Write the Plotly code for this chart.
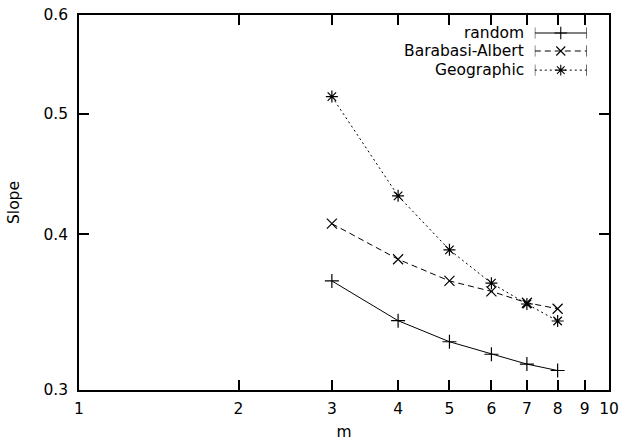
import plotly.graph_objects as go

# Slope versus m for three network models
m_values = [3, 4, 5, 6, 7, 8]
slope_random = [0.367, 0.341, 0.328, 0.3205, 0.3147, 0.311]
slope_ba = [0.408, 0.382, 0.367, 0.360, 0.3525, 0.3486]
slope_geo = [0.516, 0.4295, 0.3887, 0.3655, 0.3517, 0.3408]

series_names = ["random", "Barabasi-Albert", "Geographic"]
series_values = [slope_random, slope_ba, slope_geo]
dashes = ["solid", "6px,4px", "2px,3px"]
symbols = ["cross-thin", "x-thin", "asterisk-open"]

x_ticks = [1, 2, 3, 4, 5, 6, 7, 8, 9, 10]
y_ticks = [0.3, 0.4, 0.5, 0.6]

FONT = "DejaVu Sans, sans-serif"
FS = 15.5
fig = go.Figure()

for name, vals, dash, sym in zip(series_names, series_values, dashes, symbols):
    fig.add_trace(go.Scatter(
        x=m_values, y=vals, mode="lines+markers", name=name,
        line=dict(color="black", width=1, dash=dash),
        marker=dict(symbol=sym, size=10, color="black",
                    line=dict(color="black", width=1.2)),
        showlegend=False,
    ))

# gnuplot-style key: right-aligned labels with a capped sample line
key_rows = [0.952, 0.904, 0.853]
for name, dash, sym, ky in zip(series_names, dashes, symbols, key_rows):
    fig.add_trace(go.Scatter(
        x=[0.0, 1.0], y=[ky, ky], mode="lines", xaxis="x2", yaxis="y2",
        line=dict(color="black", width=1, dash=dash), showlegend=False,
        hoverinfo="skip"))
    fig.add_trace(go.Scatter(
        x=[0.0, 1.0], y=[ky, ky], mode="markers", xaxis="x2", yaxis="y2",
        marker=dict(symbol="line-ns", size=8, line=dict(color="black", width=1)),
        showlegend=False, hoverinfo="skip"))
    fig.add_trace(go.Scatter(
        x=[0.5], y=[ky], mode="markers", xaxis="x2", yaxis="y2",
        marker=dict(symbol=sym, size=9, color="black",
                    line=dict(color="black", width=1.1)),
        showlegend=False, hoverinfo="skip"))
    fig.add_annotation(
        x=0.0, y=ky, xref="x2", yref="y2", text=name, showarrow=False,
        xanchor="right", xshift=-9, font=dict(family=FONT, size=FS, color="black"))

fig.update_layout(
    width=619, height=445,
    margin=dict(l=79, r=10, t=15, b=55),
    paper_bgcolor="white", plot_bgcolor="rgba(0,0,0,0)",
    font=dict(family=FONT, size=FS, color="black"),
    xaxis=dict(
        type="log", range=[0, 1], tickvals=x_ticks,
        ticktext=[str(v) for v in x_ticks],
        ticks="inside", ticklen=10, tickwidth=1.5, tickcolor="black",
        showline=True, linecolor="black", linewidth=1.5, mirror="allticks",
        showgrid=False, zeroline=False, automargin=False,
        ticklabelstandoff=4,
        title=dict(text="m", standoff=9, font=dict(size=FS)),
    ),
    yaxis=dict(
        type="log", range=[-0.5228787, -0.2218487], tickvals=y_ticks,
        ticktext=["0.3", "0.4", "0.5", "0.6"],
        ticks="inside", ticklen=10, tickwidth=1.5, tickcolor="black",
        showline=True, linecolor="black", linewidth=1.5, mirror="allticks",
        showgrid=False, zeroline=False, automargin=False,
        ticklabelstandoff=6,
        title=dict(text="Slope", standoff=20, font=dict(size=FS)),
    ),
    xaxis2=dict(domain=[0.860, 0.958], range=[0, 1], visible=False,
                anchor="y2", fixedrange=True),
    yaxis2=dict(domain=[0, 1], range=[0, 1], visible=False,
                anchor="x2", fixedrange=True),
)

fig.write_html("out.html")
